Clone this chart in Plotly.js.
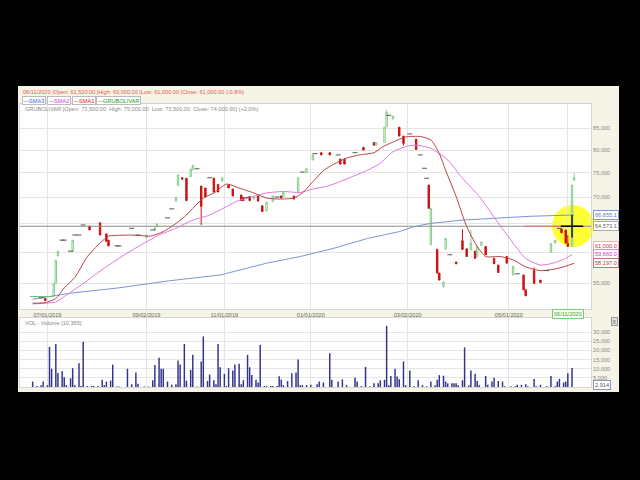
<!DOCTYPE html>
<html><head><meta charset="utf-8">
<script src="https://cdn.plot.ly/plotly-3.0.1.min.js"></script>
<style>html,body{margin:0;padding:0;background:#000;}</style>
</head><body><div id="chart" style="width:640px;height:480px;"></div>
<script>
// ---- candles (trading-day index, OHLC) ----
const candleDay  = [12,16,17,18,25,33,38,41,42,60,64,65,74,75,77,79,81,82,86,88,92,94,96,99,101,105,106,109,111,113,115,117,120,124,125,130,132,136,139,143,147,152,154,163,168,169,173,174,177,180,182,188,194,195,198,199,201,202,207,210,212,214,216,217,219,221,225,227,231,234,239,240,244,247,252,254,257,259,260,262,263];
const candleOpen = [52700,53000,55000,59400,60200,64600,65200,63200,62100,62500,63900,64500,69300,72400,74000,73900,74200,75700,72300,71900,73900,72600,73300,72600,71700,70500,70000,70200,69700,70300,68400,67400,69200,70300,70200,70300,71000,75100,77800,79400,79400,78000,78000,80600,81700,81100,81700,85400,87300,85300,83200,82500,72500,61300,60500,56600,54500,60500,58400,62000,60600,60400,60200,59300,61200,61000,59000,57900,59300,56300,56300,54000,57000,55500,60000,61600,64100,63900,61520,61000,73500];
const candleHigh = [52700,55000,58800,60200,62100,64600,65200,63200,62100,63000,64300,65000,70000,74600,74000,73900,75800,76800,72300,71900,74000,72600,74000,72600,71700,70500,70000,70200,70200,70300,68400,69100,70300,70300,71000,70300,74000,75900,78900,79400,79400,78000,78000,80600,81700,81700,85300,89500,88000,85300,83200,82500,72500,67900,60500,56600,55200,62400,58400,64000,60600,63900,60200,61000,61800,61000,59000,57900,59300,57700,56300,54000,57500,55500,61500,62100,64100,63900,63000,72500,75000];
const candleLow  = [52400,53000,55000,59400,60200,63900,63000,61900,61100,62500,63900,64500,69300,72400,73700,69400,74200,75700,64800,70100,71100,71100,73300,71900,70300,69400,69400,69400,69700,69300,67300,67400,69200,69900,70200,69700,71000,75100,77800,78900,78900,76900,76900,80000,81100,81100,81700,85400,87300,83200,81000,80100,67900,61300,56600,55500,54300,60500,58100,60500,59300,60400,59000,59300,61200,59600,58100,56700,58200,56300,54000,53100,55000,55100,60000,61600,63400,61600,61000,61000,73500];
const candleClose= [52400,55000,58600,60200,62100,63900,63000,61900,61100,63000,64300,65000,70000,74600,73700,69400,75800,76500,68300,70100,71100,71100,74000,71900,70300,69400,69400,69400,70200,69300,67300,69100,70300,69900,71000,69700,74000,75900,78900,78900,78900,76900,76900,80000,81100,81700,85300,88900,88000,83200,81500,80100,67900,67900,56600,55500,55200,62400,58100,60500,59300,61600,59000,61000,61800,59600,58100,56700,58200,57700,54000,53100,55000,55100,61500,62100,63400,61600,61000,72500,74000];

// ---- single-price days (open = high = low = close) ----
const flatDayGreen   = [6,7,8,9,11,13,14];
const flatPriceGreen = [53000,53000,53000,53000,53000,53000,53000];
const flatDay   = [10,20,21,24,26,28,30,46,47,53,56,63,70,72,84,90,108,122,134,140,151,159,175,185,190,192,193,204,236,250,256];
const flatPrice = [52800,62100,62100,60200,63000,63000,64800,61100,61100,64200,63000,63900,66100,67800,75900,74000,70000,70100,75200,79200,78900,79400,88200,83700,78900,76000,73900,59600,56500,57000,64200];

// ---- moving averages ----
const sma1Day = [6,12,17,21,26,32,38,42,45,52,57,62,68,73,78,82,87,92,98,104,111,117,123,130,134,139,144,149,155,161,168,172,177,183,190,195,199,202,207,212,217,221,228,234,240,247,253,259,263];
const sma1    = [52000,52100,52700,54300,55900,59300,61600,62800,62900,63000,62900,62800,63600,64800,66300,67900,69900,70900,72700,71900,70900,69900,69700,69900,70900,73200,75500,76900,78200,78900,79400,80700,81800,83000,83100,82300,79200,75600,70200,64500,61000,59300,59300,58750,57600,57000,57200,57700,58197];
const sma2Day = [6,17,21,28,40,51,59,66,74,82,89,95,103,109,117,125,133,139,146,152,158,165,171,177,184,188,195,203,210,218,226,234,240,247,253,259,262];
const sma2    = [51900,52200,53000,54500,57400,59900,61600,63000,64200,65700,66500,67600,69300,70000,70900,71200,71000,71700,72300,73200,74300,75600,77100,79600,80900,81100,80400,77800,73900,70200,65700,61600,59000,57900,58200,59000,59660];
const sma3Day = [6,24,47,71,95,117,133,149,165,180,187,195,210,226,242,263];
const sma3    = [52600,53500,54300,55400,56300,58200,59300,60700,62400,63600,64500,65100,65700,66100,66400,66655];

// ---- volume ----
const volDay = [6,8,10,11,13,14,15,17,18,20,21,22,24,25,26,28,29,30,32,34,35,37,39,40,41,43,44,46,47,51,53,55,56,59,61,63,64,66,67,68,70,72,74,75,76,78,79,81,82,84,86,87,89,90,92,93,94,95,97,98,99,101,102,104,105,106,108,109,110,112,113,114,116,117,119,120,122,123,124,125,127,129,131,132,133,134,136,138,141,142,144,147,148,151,153,155,159,160,162,164,166,168,170,171,173,174,175,176,178,179,180,182,183,185,187,189,191,193,195,197,198,199,201,202,203,205,206,207,208,210,211,213,214,216,217,218,221,222,224,225,227,229,230,233,235,236,238,240,241,244,245,247,250,252,254,255,256,258,259,260,262];
const volume = [3000,600,1000,3000,1000,22000,10000,23500,7700,8600,5300,1000,4800,10300,1000,13000,500,24800,500,500,500,500,4000,1000,3000,3500,12300,300,300,10000,1500,8000,1800,300,300,3700,12000,16000,10000,10000,3000,1300,1500,14500,12300,23600,3500,9400,17600,300,14000,27700,3300,6800,3700,1500,23500,10800,7200,500,10300,9000,12300,12700,1500,3700,17600,10800,6600,4000,2500,23000,500,500,500,500,500,5900,4000,1000,3300,7500,8000,15000,1000,1000,1000,1200,1500,3000,2500,18500,4000,3000,4200,1000,5000,3000,500,11000,400,2000,2000,3700,4000,33500,1000,6000,10000,5800,4200,14000,1000,9000,400,3700,1000,400,3000,1000,4000,6500,6200,3000,2000,2000,2000,2000,1000,3700,21700,1000,9000,7200,3300,1000,6000,1300,3000,5000,3300,3000,400,400,400,1200,1200,1500,400,4400,400,1200,400,6000,400,3000,4500,2500,3000,7500,10365];

// ---- axes labels ----
const dateTickDay  = [13,60,97,138,184,232,260];
const dateTickText = ['07/01/2019','09/02/2019','11/01/2019','01/01/2020','03/02/2020','05/01/2020',''];
const priceTicks = [55000,60000,65000,70000,75000,80000,85000];
// 60,000 and 65,000 sit under the value tags in the reference
const priceTickText = ['55,000','','','70,000','75,000','80,000','85,000'];
const volTicks = [5000,10000,15000,20000,25000,30000];
const volTickText = ['5,000','10,000','15,000','20,000','25,000','30,000'];
const crossDay = 262, crossPrice = 64573;
const tags = [
  {v:66655.1, t:'66,655.1', c:'#5577cc', b:'#7c96d8'},
  {v:64573.1, t:'64,573.1', c:'#666666', b:'#aaaaaa'},
  {v:61000.0, t:'61,000.0', c:'#dd3333', b:'#f0b0b0'},
  {v:59660.0, t:'59,660.0', c:'#cc33cc', b:'#dd88dd'},
  {v:58197.0, t:'58,197.0', c:'#b03a3a', b:'#c87070'}
];

const F = 'Liberation Sans, Arial, sans-serif';
const FS = 5.6;
const W = 640, H = 480;
const px = v => v / W, py = v => 1 - v / H;

const traces = [
  {type:'scatter', mode:'lines', x:[0,271], y:[crossPrice,crossPrice], line:{color:'#8c8c8c', width:1}, hoverinfo:'skip'},
  {type:'scatter', mode:'lines', x:sma3Day, y:sma3, line:{color:'#7a96d2', width:1}, hoverinfo:'skip'},
  {type:'scatter', mode:'lines', x:sma2Day, y:sma2, line:{color:'#dd77dd', width:1, shape:'spline', smoothing:0.6}, hoverinfo:'skip'},
  {type:'scatter', mode:'lines', x:sma1Day, y:sma1, line:{color:'#bb4444', width:1, shape:'spline', smoothing:0.6}, hoverinfo:'skip'},
  {type:'candlestick', x:candleDay, open:candleOpen, high:candleHigh, low:candleLow, close:candleClose,
   increasing:{line:{color:'#86cc86', width:1}, fillcolor:'#ffffff'},
   decreasing:{line:{color:'#cc1111', width:1}, fillcolor:'#cc1111'},
   whiskerwidth:0, hoverinfo:'skip'},
  {type:'scatter', mode:'markers', x:flatDayGreen, y:flatPriceGreen, marker:{symbol:'line-ew', size:4, line:{width:1, color:'#6cc46c'}}, hoverinfo:'skip'},
  {type:'scatter', mode:'markers', x:flatDay, y:flatPrice, marker:{symbol:'line-ew', size:3.5, line:{width:1, color:'#555555'}}, hoverinfo:'skip'},
  {type:'scatter', mode:'lines', x:[239,266], y:[crossPrice,crossPrice], line:{color:'#e07070', width:1.2}, hoverinfo:'skip'},
  {type:'scatter', mode:'markers', x:[crossDay], y:[crossPrice], marker:{symbol:'cross-thin', size:16, line:{width:1.3, color:'#000'}}, hoverinfo:'skip'},
  {type:'bar', x:volDay, y:volume, xaxis:'x2', yaxis:'y2', width:0.7, marker:{color:'#33338c', line:{width:0}}, hoverinfo:'skip'}
];

const ann = [];
const txt = (x, y, t, color, extra) => ann.push(Object.assign({xref:'paper', yref:'paper', x:px(x), y:py(y), text:t, showarrow:false, xanchor:'left', yanchor:'middle', font:{family:F, size:FS, color:color}}, extra||{}));
txt(21, 91.5, '06/11/2020 |Open: 61,520.00 |High: 63,000.00 |Low: 61,000.00 |Close: 61,000.00 (-0.8%)', '#e05a5a');
const leg = [['—SMA3','#4466cc',22],['—SMA2','#dd33dd',47],['—SMA1','#dd2222',72],['—GRUBOLIVAR','#22a022',96]];
leg.forEach(l => txt(l[2], 100.5, l[0], l[1], {bgcolor:'#ffffff', bordercolor:'#bbbbbb', borderwidth:1, borderpad:0.5}));
txt(23, 108.5, 'GRUBOLIVAR [Open: 73,500.00&nbsp;&nbsp;High: 75,000.00&nbsp;&nbsp;Low: 73,500.00&nbsp;&nbsp;Close: 74,000.00] (+2.0%)', '#8a8a8a');
txt(23, 322.5, 'VOL - Volume [10,365]', '#888888');
txt(611, 321.5, 'X', '#555555', {bgcolor:'#dddddd', bordercolor:'#999999', borderwidth:1, borderpad:0.5, font:{family:F, size:5, color:'#555'}});
tags.forEach(g => ann.push({xref:'paper', yref:'y', x:px(593), y:Math.log10(g.v), text:g.t, showarrow:false, xanchor:'left', yanchor:'middle', bgcolor:'#ffffff', bordercolor:g.b, borderwidth:1, borderpad:1, font:{family:F, size:FS, color:g.c}}));
ann.push({xref:'paper', yref:'y2', x:px(593), y:1100, text:'2,914', showarrow:false, xanchor:'left', yanchor:'middle', bgcolor:'#ffffff', bordercolor:'#8899bb', borderwidth:1, borderpad:1, font:{family:F, size:FS, color:'#556'}});
ann.push({xref:'x', yref:'paper', x:dateTickDay[6], y:py(313.5), text:'06/11/2020', showarrow:false, xanchor:'center', yanchor:'middle', bgcolor:'#f4fbef', bordercolor:'#77cc77', borderwidth:1, borderpad:1, font:{family:F, size:FS, color:'#44aa44'}});

const shapes = [
  {type:'rect', xref:'paper', yref:'paper', x0:px(18), x1:px(619), y0:py(392), y1:py(86), fillcolor:'#f6f4e7', line:{width:0}, layer:'below'},
  {type:'rect', xref:'paper', yref:'paper', x0:px(20), x1:px(591), y0:py(309), y1:py(104), fillcolor:'#ffffff', line:{width:0}, layer:'below'},
  {type:'rect', xref:'paper', yref:'paper', x0:px(20), x1:px(591), y0:py(387), y1:py(318), fillcolor:'#ffffff', line:{width:0}, layer:'below'},
  {type:'circle', xref:'paper', yref:'paper', x0:px(552), x1:px(594), y0:py(247), y1:py(205), fillcolor:'#ffff33', line:{width:0}, layer:'below'}
];

const layout = {
  width:W, height:H, margin:{l:0,r:0,t:0,b:0}, autosize:false,
  paper_bgcolor:'#000000', plot_bgcolor:'rgba(0,0,0,0)', showlegend:false, hovermode:false,
  boxgap:0.05,
  font:{family:F, size:FS, color:'#777'},
  xaxis:{domain:[px(20), px(591)], range:[0,271], anchor:'y', tickmode:'array', tickvals:dateTickDay, ticktext:dateTickText,
    showgrid:true, gridcolor:'#e4e4e4', zeroline:false, showline:true, mirror:true, linecolor:'#d6d6d6', ticks:'',
    tickfont:{family:F, size:FS, color:'#666'}, rangeslider:{visible:false}, fixedrange:true},
  yaxis:{domain:[py(309), py(104)], type:'log', range:[4.709, 4.9593], side:'right', anchor:'x', tickmode:'array', tickvals:priceTicks, ticktext:priceTickText,
    showgrid:true, gridcolor:'#e4e4e4', zeroline:false, showline:true, mirror:true, linecolor:'#d6d6d6', ticks:'',
    tickfont:{family:F, size:FS, color:'#888'}, fixedrange:true},
  xaxis2:{domain:[px(20), px(591)], range:[0,271], anchor:'y2', matches:'x', tickmode:'array', tickvals:dateTickDay, showticklabels:false,
    showgrid:true, gridcolor:'#e4e4e4', zeroline:false, showline:true, mirror:true, linecolor:'#d6d6d6', ticks:''},
  yaxis2:{domain:[py(387), py(318)], range:[0,37800], side:'right', anchor:'x2', tickmode:'array', tickvals:volTicks, ticktext:volTickText,
    showgrid:true, gridcolor:'#e6e6e6', zeroline:false, showline:true, mirror:true, linecolor:'#d6d6d6', ticks:'',
    tickfont:{family:F, size:FS, color:'#888'}},
  annotations:ann, shapes:shapes
};
Plotly.newPlot('chart', traces, layout, {staticPlot:true, displayModeBar:false});
</script></body></html>
